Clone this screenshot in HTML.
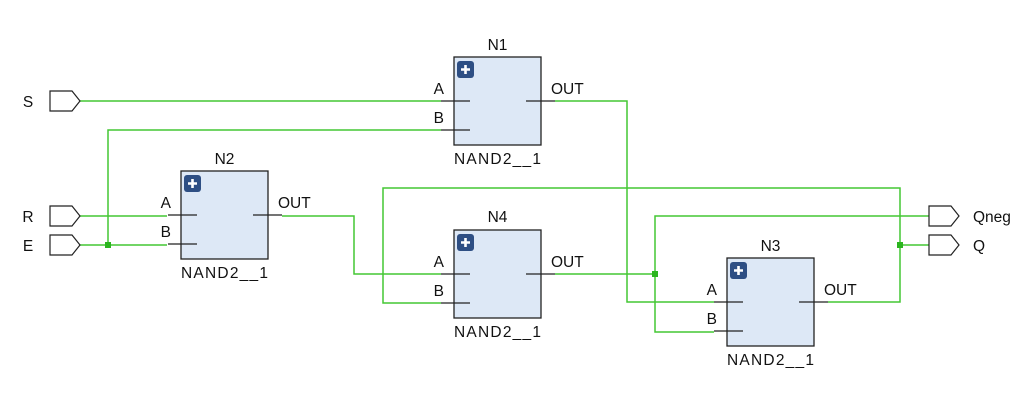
<!DOCTYPE html>
<html><head><meta charset="utf-8"><style>
html,body{margin:0;padding:0;background:#fff;}
svg text{font-family:"Liberation Sans",sans-serif;font-size:15.5px;fill:#111;}
</style></head><body>
<svg width="1036" height="407" viewBox="0 0 1036 407" xmlns="http://www.w3.org/2000/svg">
<defs>
<g id="gate">
<rect x="0" y="0" width="87" height="88" fill="#dde8f6" stroke="#222" stroke-width="1.3"/>
<rect x="3" y="4" width="17" height="17" rx="3" fill="#2e4f84"/>
<path d="M11.5 8v9M7 12.5h9" stroke="#fff" stroke-width="2.6"/>
<path d="M-13 44h29M-13 73h29M72 44h29" stroke="#222" stroke-width="1.2"/>
<text x="-10" y="37" text-anchor="end">A</text>
<text x="-10" y="66" text-anchor="end">B</text>
<text x="97" y="37">OUT</text>
<text x="0" y="107" textLength="87" lengthAdjust="spacing">NAND2__1</text>
</g>
<g id="port"><path d="M0 0h22l8 10l-8 10h-22z" fill="#fff" stroke="#222" stroke-width="1.2"/></g>
</defs>
<g fill="none" stroke="#44c734" stroke-width="1.5">
<path d="M80 101H441"/>
<path d="M80 216H167"/>
<path d="M80 245H167"/>
<path d="M108 245V130H441"/>
<path d="M282 216H354V274H441"/>
<path d="M555 101H627V302H714"/>
<path d="M555 274H655"/>
<path d="M929 216H655V332H714"/>
<path d="M828 302H900V188H383V303H441"/>
<path d="M900 245H929"/>
</g>
<rect x="105" y="242" width="6" height="6" fill="#2bb51e"/>
<rect x="652" y="271" width="6" height="6" fill="#2bb51e"/>
<rect x="897" y="242" width="6" height="6" fill="#2bb51e"/>
<use href="#port" x="50" y="91"/>
<use href="#port" x="50" y="206"/>
<use href="#port" x="50" y="235"/>
<use href="#port" x="929" y="206"/>
<use href="#port" x="929" y="235"/>
<text x="28" y="107" text-anchor="middle">S</text>
<text x="28" y="222" text-anchor="middle">R</text>
<text x="28" y="251" text-anchor="middle">E</text>
<text x="973" y="222">Qneg</text>
<text x="973" y="251">Q</text>
<use href="#gate" x="454" y="57"/>
<use href="#gate" x="181" y="171"/>
<use href="#gate" x="454" y="230"/>
<use href="#gate" x="727" y="258"/>
<text x="497.5" y="50" text-anchor="middle">N1</text>
<text x="224.5" y="164" text-anchor="middle">N2</text>
<text x="497.5" y="222" text-anchor="middle">N4</text>
<text x="770.5" y="251" text-anchor="middle">N3</text>
</svg>
</body></html>
